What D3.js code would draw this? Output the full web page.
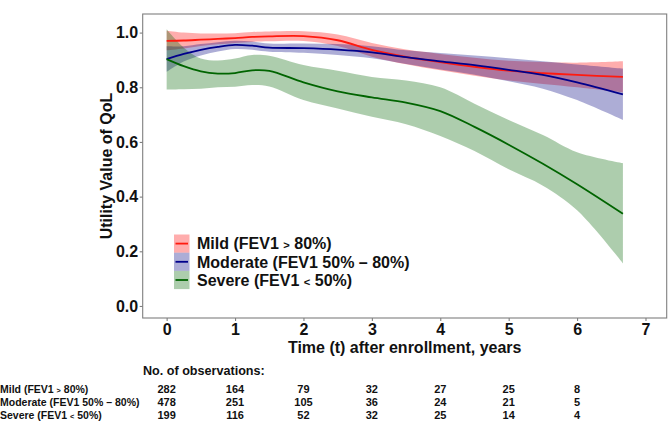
<!DOCTYPE html>
<html>
<head>
<meta charset="utf-8">
<script src="https://cdn.jsdelivr.net/npm/d3@7"></script>
<style>
  body { margin: 0; background: #fff; }
  text { font-family: "Liberation Sans", Arial, sans-serif; font-weight: bold; fill: #111; }
</style>
</head>
<body>
<svg id="chart" width="669" height="421"></svg>
<script>
// time grid (years)
const years = [0, 0.25, 0.5, 0.75, 1, 1.25, 1.5, 2, 2.5, 3, 3.5, 4, 4.5, 5, 5.5, 6, 6.67];

const mildMean  = [0.970, 0.971, 0.974, 0.977, 0.980, 0.984, 0.986, 0.987, 0.972, 0.937, 0.911, 0.892, 0.875, 0.861, 0.852, 0.845, 0.838];
const mildUpper = [1.007, 1.000, 0.997, 0.997, 0.998, 1.002, 1.004, 1.005, 0.993, 0.962, 0.938, 0.922, 0.908, 0.897, 0.892, 0.890, 0.895];
const mildLower = [0.935, 0.942, 0.951, 0.957, 0.962, 0.966, 0.968, 0.969, 0.951, 0.912, 0.884, 0.862, 0.842, 0.825, 0.812, 0.800, 0.781];

const modMean  = [0.903, 0.922, 0.937, 0.948, 0.955, 0.952, 0.945, 0.943, 0.938, 0.928, 0.910, 0.895, 0.881, 0.864, 0.845, 0.818, 0.774];
const modUpper = [0.950, 0.950, 0.958, 0.965, 0.970, 0.967, 0.960, 0.960, 0.958, 0.950, 0.935, 0.925, 0.916, 0.906, 0.895, 0.883, 0.868];
const modLower = [0.856, 0.894, 0.916, 0.931, 0.940, 0.937, 0.930, 0.926, 0.918, 0.906, 0.885, 0.865, 0.846, 0.822, 0.795, 0.753, 0.680];

const sevMean  = [0.903, 0.877, 0.858, 0.850, 0.852, 0.862, 0.860, 0.818, 0.785, 0.763, 0.744, 0.713, 0.655, 0.590, 0.520, 0.445, 0.337];
const sevUpper = [1.012, 0.945, 0.905, 0.898, 0.905, 0.918, 0.915, 0.881, 0.860, 0.838, 0.825, 0.800, 0.740, 0.680, 0.625, 0.562, 0.522];
const sevLower = [0.792, 0.793, 0.795, 0.800, 0.802, 0.808, 0.803, 0.753, 0.722, 0.692, 0.665, 0.622, 0.567, 0.500, 0.440, 0.350, 0.156];

const groupNames = ["Mild (FEV1 > 80%)", "Moderate (FEV1 50% \u2013 80%)", "Severe (FEV1 < 50%)"];

// observations table
const obsYears = [0, 1, 2, 3, 4, 5, 6];
const obsMild = [282, 164, 79, 32, 27, 25, 8];
const obsModerate = [478, 251, 105, 36, 24, 21, 5];
const obsSevere = [199, 116, 52, 32, 25, 14, 4];

const xTicks = [0, 1, 2, 3, 4, 5, 6, 7];
const yTicks = [0, 0.2, 0.4, 0.6, 0.8, 1.0];

const series = [
    { name: groupNames[0], mean: mildMean, upper: mildUpper, lower: mildLower, color: "#ff1a0f", fill: "#ff0000", obs: obsMild },
    { name: groupNames[1], mean: modMean, upper: modUpper, lower: modLower, color: "#00008b", fill: "#000080", obs: obsModerate },
    { name: groupNames[2], mean: sevMean, upper: sevUpper, lower: sevLower, color: "#006400", fill: "#006400", obs: obsSevere }
];

const svg = d3.select("#chart");
const panel = { left: 142.7, right: 666.7, top: 14, bottom: 318 };

const x = d3.scaleLinear().domain([-0.35, 7.31]).range([panel.left, panel.right]);
const y = d3.scaleLinear().domain([-0.044, 1.068]).range([panel.bottom, panel.top]);

// writes a label, drawing < and > a bit smaller like the original
function writeLabel(sel, str, size) {
    str.split(/([<>])/).forEach(part => {
        if (!part) return;
        const sym = part === "<" || part === ">";
        sel.append("tspan")
            .attr("font-size", sym ? size * 0.7 : size)
            .text(part);
    });
}

// ribbons
const area = d3.area()
    .x((d, i) => x(years[i]))
    .y0(d => y(d[0]))
    .y1(d => y(d[1]))
    .curve(d3.curveCatmullRom);

series.forEach(s => {
    svg.append("path")
        .datum(s.lower.map((v, i) => [v, s.upper[i]]))
        .attr("d", area)
        .attr("fill", s.fill)
        .attr("fill-opacity", 0.32);
});

// mean curves
const line = d3.line()
    .x((d, i) => x(years[i]))
    .y(d => y(d))
    .curve(d3.curveCatmullRom);

series.forEach(s => {
    svg.append("path")
        .datum(s.mean)
        .attr("d", line)
        .attr("fill", "none")
        .attr("stroke", s.color)
        .attr("stroke-width", 1.8);
});

// panel border
svg.append("rect")
    .attr("x", panel.left)
    .attr("y", panel.top)
    .attr("width", panel.right - panel.left)
    .attr("height", panel.bottom - panel.top)
    .attr("fill", "none")
    .attr("stroke", "#7f7f7f")
    .attr("stroke-width", 1.1);

// axes
const xAxis = svg.append("g")
    .attr("transform", `translate(0,${panel.bottom})`)
    .call(d3.axisBottom(x).tickValues(xTicks).tickSize(3).tickPadding(3).tickFormat(d3.format("d")));
const yAxis = svg.append("g")
    .attr("transform", `translate(${panel.left},0)`)
    .call(d3.axisLeft(y).tickValues(yTicks).tickSize(3).tickPadding(1.5).tickFormat(d3.format(".1f")));

[xAxis, yAxis].forEach(g => {
    g.select(".domain").remove();
    g.selectAll(".tick line").attr("stroke", "#7f7f7f").attr("stroke-width", 1.1);
    g.selectAll(".tick text")
        .attr("font-size", 16)
        .attr("font-family", "'Liberation Sans', Arial, sans-serif")
        .attr("font-weight", "bold")
        .attr("fill", "#111");
});

// axis titles
svg.append("text")
    .attr("x", (panel.left + panel.right) / 2)
    .attr("y", 352.5)
    .attr("text-anchor", "middle")
    .attr("font-size", 16)
    .text("Time (t) after enrollment, years");

svg.append("text")
    .attr("transform", `translate(112,${(panel.top + panel.bottom) / 2}) rotate(-90)`)
    .attr("text-anchor", "middle")
    .attr("font-size", 16)
    .text("Utility Value of QoL");

// legend
const legend = svg.append("g").attr("transform", "translate(174,234.5)");
series.forEach((s, i) => {
    const row = legend.append("g").attr("transform", `translate(0,${i * 18.2})`);
    row.append("rect")
        .attr("width", 15.5)
        .attr("height", 18.2)
        .attr("fill", s.fill)
        .attr("fill-opacity", 0.32);
    row.append("line")
        .attr("x1", 1.5).attr("x2", 14)
        .attr("y1", 9.1).attr("y2", 9.1)
        .attr("stroke", s.color)
        .attr("stroke-width", 1.8);
    const t = row.append("text")
        .attr("x", 23)
        .attr("y", 9.1)
        .attr("dy", "0.36em");
    writeLabel(t, s.name, 16);
});

// observations table
svg.append("text")
    .attr("x", 143)
    .attr("y", 374.5)
    .attr("font-size", 12.6)
    .text("No. of observations:");

series.forEach((s, i) => {
    const rowY = 389 + i * 13;
    const lab = svg.append("text")
        .attr("x", 0)
        .attr("y", rowY)
        .attr("dy", "0.36em")
        .attr("font-size", 10.5);
    writeLabel(lab, s.name, 10.5);

    svg.selectAll(null)
        .data(s.obs)
        .enter()
        .append("text")
        .attr("x", (d, j) => x(obsYears[j]))
        .attr("y", rowY)
        .attr("dy", "0.36em")
        .attr("text-anchor", "middle")
        .attr("font-size", 11)
        .text(d => d);
});
</script>
</body>
</html>
